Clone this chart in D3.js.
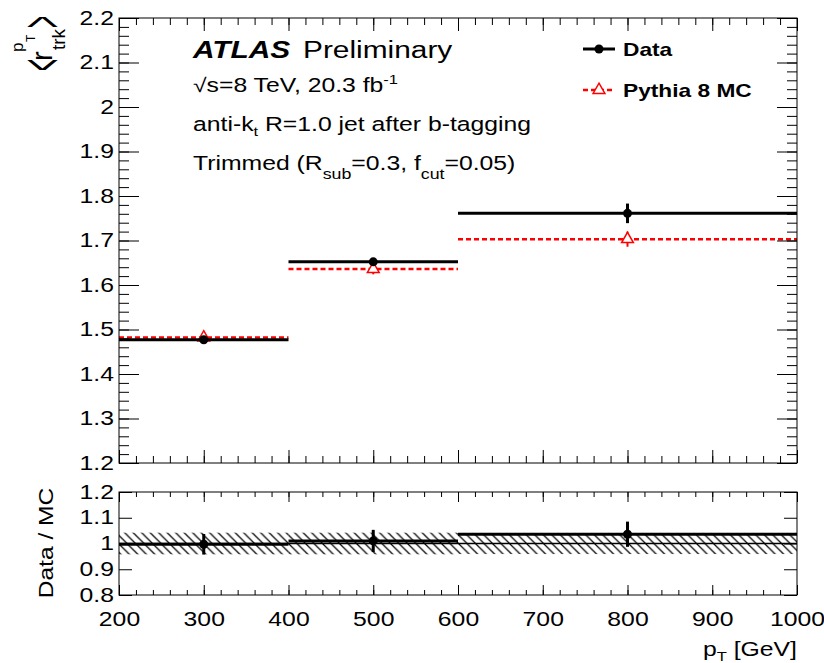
<!DOCTYPE html>
<html>
<head>
<meta charset="utf-8">
<script src="https://cdn.jsdelivr.net/npm/d3@7/dist/d3.min.js"></script>
<style>
  body { margin: 0; background: #fff; }
</style>
</head>
<body>
<div id="chart"></div>
<script>
// values
var binEdges = [200, 400, 600, 1000];
var binCenters = [300, 500, 800];
var dataVal = [1.477, 1.652, 1.761];
var dataErr = [0.006, 0.006, 0.022];
var mcVal = [1.482, 1.636, 1.703];
var mcErr = [0.010, 0.012, 0.017];
var ratioVal = [0.997, 1.010, 1.036];
var ratioErr = [0.040, 0.043, 0.049];
var bandErr = [0.042, 0.042, 0.041];

var xTicks = [200, 300, 400, 500, 600, 700, 800, 900, 1000];
var yTopTicks = [1.2, 1.3, 1.4, 1.5, 1.6, 1.7, 1.8, 1.9, 2, 2.1, 2.2];
var yRatioTicks = [0.8, 0.9, 1, 1.1, 1.2];
var legendNames = ["Data", "Pythia 8 MC"];

var W = 824, H = 663;
var sx = 1.27; // glyphs in the picture are drawn wide
var FONT = "'Liberation Sans', Arial, Helvetica, sans-serif";

var svg = d3.select("#chart").append("svg")
	.attr("width", W)
	.attr("height", H);

var x = d3.scaleLinear().domain([200, 1000]).range([119, 797]);
var yTop = d3.scaleLinear().domain([1.2, 2.2]).range([463, 18]);
var yRat = d3.scaleLinear().domain([0.8, 1.2]).range([595, 492]);

var defs = svg.append("defs");
defs.append("pattern")
	.attr("id", "hatch")
	.attr("patternUnits", "userSpaceOnUse")
	.attr("width", 8.5)
	.attr("height", 8.5)
	.append("path")
	.attr("d", "M-1,-1L9.5,9.5M-1,7.5L1,9.5M7.5,-1L9.5,1")
	.attr("stroke", "#000")
	.attr("stroke-width", 1.2);

function styleAxis(g, size) {
	g.attr("font-family", FONT).attr("font-size", size);
	g.select(".domain").remove();
	g.selectAll("line").attr("stroke", "#000").attr("stroke-width", 1);
}

// y axes: major + minor, left and mirrored right
function yAxes(scale, ticks, minor, majLen, minLen) {
	var gl = svg.append("g").attr("transform", "translate(" + x.range()[0] + ",0)");
	gl.call(d3.axisLeft(scale).tickValues(ticks).tickSize(-majLen).tickPadding(5).tickFormat(d3.format("~g")));
	styleAxis(gl, 19.5);
	gl.selectAll("text").attr("transform", "scale(" + sx + ",1)").attr("x", -5 / sx);
	var gr = svg.append("g").attr("transform", "translate(" + x.range()[1] + ",0)");
	gr.call(d3.axisRight(scale).tickValues(ticks).tickSize(-majLen).tickFormat(""));
	styleAxis(gr, 10);
	if (minor) {
		var ml = svg.append("g").attr("transform", "translate(" + x.range()[0] + ",0)");
		ml.call(d3.axisLeft(scale).tickValues(minor).tickSize(-minLen).tickFormat(""));
		styleAxis(ml, 10);
		var mr = svg.append("g").attr("transform", "translate(" + x.range()[1] + ",0)");
		mr.call(d3.axisRight(scale).tickValues(minor).tickSize(-minLen).tickFormat(""));
		styleAxis(mr, 10);
	}
}

function xAxes(yBottom, yTopEdge, majLen, minLen, withLabels) {
	var minor = d3.range(200, 1001, 20);
	var gb = svg.append("g").attr("transform", "translate(0," + yBottom + ")");
	gb.call(d3.axisBottom(x).tickValues(xTicks).tickSize(-majLen).tickPadding(withLabels ? 17 : 0)
		.tickFormat(withLabels ? d3.format("d") : ""));
	styleAxis(gb, 19.5);
	gb.selectAll("text").attr("transform", "scale(" + sx + ",1)");
	var mb = svg.append("g").attr("transform", "translate(0," + yBottom + ")");
	mb.call(d3.axisBottom(x).tickValues(minor).tickSize(-minLen).tickFormat(""));
	styleAxis(mb, 10);
	var gt = svg.append("g").attr("transform", "translate(0," + yTopEdge + ")");
	gt.call(d3.axisTop(x).tickValues(xTicks).tickSize(-majLen).tickFormat(""));
	styleAxis(gt, 10);
	var mt = svg.append("g").attr("transform", "translate(0," + yTopEdge + ")");
	mt.call(d3.axisTop(x).tickValues(minor).tickSize(-minLen).tickFormat(""));
	styleAxis(mt, 10);
}

// ---------- top panel ----------
var mainPanel = svg.append("g");

binCenters.forEach(function (c, i) {
	// MC first so the data sit on top
	mainPanel.append("line")
		.attr("x1", x(binEdges[i])).attr("x2", x(binEdges[i + 1]))
		.attr("y1", yTop(mcVal[i])).attr("y2", yTop(mcVal[i]))
		.attr("stroke", "#ff0000").attr("stroke-width", 2.5)
		.attr("stroke-dasharray", "5,3");
	mainPanel.append("line")
		.attr("x1", x(c)).attr("x2", x(c))
		.attr("y1", yTop(mcVal[i] - mcErr[i])).attr("y2", yTop(mcVal[i] + mcErr[i]))
		.attr("stroke", "#ff0000").attr("stroke-width", 2);
	mainPanel.append("path")
		.attr("d", d3.symbol(d3.symbolTriangle, 60)())
		.attr("transform", "translate(" + x(c) + "," + yTop(mcVal[i]) + ")")
		.attr("fill", "#fff").attr("stroke", "#ff0000").attr("stroke-width", 1.5);
});

binCenters.forEach(function (c, i) {
	mainPanel.append("line")
		.attr("x1", x(binEdges[i])).attr("x2", x(binEdges[i + 1]))
		.attr("y1", yTop(dataVal[i])).attr("y2", yTop(dataVal[i]))
		.attr("stroke", "#000").attr("stroke-width", 3);
	mainPanel.append("line")
		.attr("x1", x(c)).attr("x2", x(c))
		.attr("y1", yTop(dataVal[i] - dataErr[i])).attr("y2", yTop(dataVal[i] + dataErr[i]))
		.attr("stroke", "#000").attr("stroke-width", 3);
	mainPanel.append("circle")
		.attr("cx", x(c)).attr("cy", yTop(dataVal[i])).attr("r", 4.5)
		.attr("fill", "#000");
});

// ---------- ratio panel ----------
var ratioPanel = svg.append("g");
binCenters.forEach(function (c, i) {
	ratioPanel.append("rect")
		.attr("x", x(binEdges[i]))
		.attr("width", x(binEdges[i + 1]) - x(binEdges[i]))
		.attr("y", yRat(1 + bandErr[i]))
		.attr("height", yRat(1 - bandErr[i]) - yRat(1 + bandErr[i]))
		.attr("fill", "url(#hatch)");
});
ratioPanel.append("line")
	.attr("x1", x(200)).attr("x2", x(1000))
	.attr("y1", yRat(1)).attr("y2", yRat(1))
	.attr("stroke", "#000").attr("stroke-width", 1.5);
binCenters.forEach(function (c, i) {
	ratioPanel.append("line")
		.attr("x1", x(binEdges[i])).attr("x2", x(binEdges[i + 1]))
		.attr("y1", yRat(ratioVal[i])).attr("y2", yRat(ratioVal[i]))
		.attr("stroke", "#000").attr("stroke-width", 3);
	ratioPanel.append("line")
		.attr("x1", x(c)).attr("x2", x(c))
		.attr("y1", yRat(ratioVal[i] - ratioErr[i])).attr("y2", yRat(ratioVal[i] + ratioErr[i]))
		.attr("stroke", "#000").attr("stroke-width", 3);
	ratioPanel.append("circle")
		.attr("cx", x(c)).attr("cy", yRat(ratioVal[i])).attr("r", 4.5)
		.attr("fill", "#000");
});

// ---------- axes and frames ----------
yAxes(yTop, yTopTicks, d3.range(1.2, 2.2001, 0.02), 20, 10);
xAxes(yTop.range()[0], yTop.range()[1], 13, 7, false);
yAxes(yRat, yRatioTicks, null, 13, 0);
xAxes(yRat.range()[0], yRat.range()[1], 10, 5, true);

[[yTop.range()[1], yTop.range()[0]], [yRat.range()[1], yRat.range()[0]]].forEach(function (r) {
	svg.append("rect")
		.attr("x", x.range()[0]).attr("y", r[0])
		.attr("width", x.range()[1] - x.range()[0]).attr("height", r[1] - r[0])
		.attr("fill", "none").attr("stroke", "#000").attr("stroke-width", 1);
});

// ---------- text ----------
function label(x0, y0, size, weight, style) {
	return svg.append("text")
		.attr("transform", "translate(" + x0 + "," + y0 + ") scale(" + sx + ",1)")
		.attr("font-family", FONT)
		.attr("font-size", size)
		.attr("font-weight", weight || "normal")
		.attr("font-style", style || "normal");
}

label(193, 58, 23.5, "bold", "italic").text("ATLAS");
label(303, 58, 23.5).text("Preliminary");

var t2 = label(193, 92, 19.5);
t2.append("tspan").text("\u221As=8 TeV, 20.3 fb");
t2.append("tspan").attr("dy", -8).attr("font-size", 13).text("-1");

var t3 = label(193, 131, 19.5);
t3.append("tspan").text("anti-k");
t3.append("tspan").attr("dy", 5).attr("font-size", 13).text("t");
t3.append("tspan").attr("dy", -5).text(" R=1.0 jet after b-tagging");

var t4 = label(193, 170, 19.5);
t4.append("tspan").text("Trimmed (R");
t4.append("tspan").attr("dy", 9).attr("font-size", 14).text("sub");
t4.append("tspan").attr("dy", -9).text("=0.3, f");
t4.append("tspan").attr("dy", 9).attr("font-size", 14).text("cut");
t4.append("tspan").attr("dy", -9).text("=0.05)");

// legend
var legY = [49, 90];
svg.append("line").attr("x1", 583).attr("x2", 615).attr("y1", legY[0]).attr("y2", legY[0])
	.attr("stroke", "#000").attr("stroke-width", 3);
svg.append("circle").attr("cx", 599).attr("cy", legY[0]).attr("r", 4.5).attr("fill", "#000");
svg.append("line").attr("x1", 583).attr("x2", 615).attr("y1", legY[1]).attr("y2", legY[1])
	.attr("stroke", "#ff0000").attr("stroke-width", 2.5).attr("stroke-dasharray", "5,3");
svg.append("path")
	.attr("d", d3.symbol(d3.symbolTriangle, 60)())
	.attr("transform", "translate(599," + legY[1] + ")")
	.attr("fill", "#fff").attr("stroke", "#ff0000").attr("stroke-width", 1.5);
legendNames.forEach(function (n, i) {
	label(623, legY[i] + 7, 17.9, "bold").text(n);
});

// axis titles
var xt = svg.append("text")
	.attr("transform", "translate(797,656) scale(" + sx + ",1)")
	.attr("font-family", FONT).attr("font-size", 19.5)
	.attr("text-anchor", "end");
xt.append("tspan").text("p");
xt.append("tspan").attr("dy", 5).attr("font-size", 13).text("T");
xt.append("tspan").attr("dy", -5).text(" [GeV]");

svg.append("text")
	.attr("transform", "translate(53,543) rotate(-90) scale(1.2,1)")
	.attr("font-family", FONT).attr("font-size", 20.5)
	.attr("text-anchor", "middle")
	.text("Data / MC");

// <r_trk^pT> label, pieces placed in a rotated frame
var yl = svg.append("g").attr("transform", "translate(44,72) rotate(-90)")
	.attr("font-family", FONT);
yl.append("text").attr("transform", "translate(1,18.3) scale(1.04,3)")
	.attr("font-size", 20).text("<");
yl.append("text").attr("transform", "translate(44,18.3) scale(1.04,3)")
	.attr("font-size", 20).text(">");
yl.append("text").attr("x", 11).attr("y", 8).attr("font-size", 29).text("r");
yl.append("text").attr("x", 22).attr("y", 21).attr("font-size", 19).text("trk");
yl.append("text").attr("x", 20).attr("y", -21).attr("font-size", 17).text("p");
yl.append("text").attr("x", 30).attr("y", -9).attr("font-size", 12).text("T");
</script>
</body>
</html>
